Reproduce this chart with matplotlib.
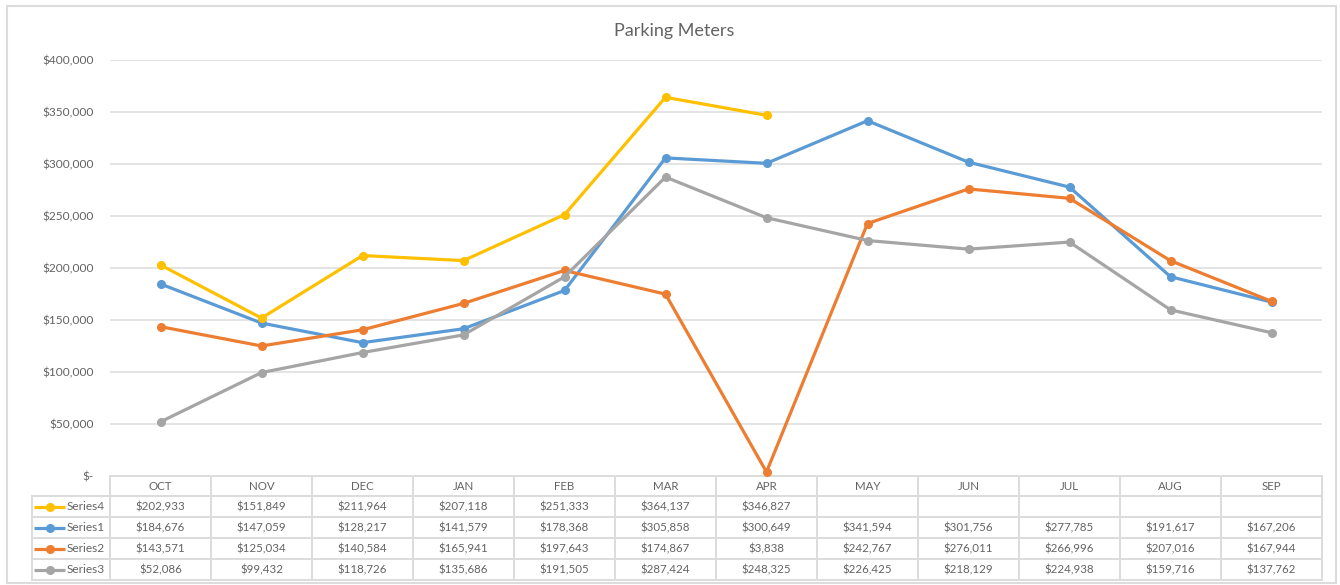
import numpy as np
import matplotlib
matplotlib.use("Agg")
import matplotlib.pyplot as plt
import matplotlib.transforms as mtransforms
from matplotlib.patches import Rectangle
from matplotlib.ticker import FuncFormatter

plt.rcParams['font.family'] = ['Lato', 'DejaVu Sans']

months = ["OCT", "NOV", "DEC", "JAN", "FEB", "MAR", "APR", "MAY", "JUN", "JUL", "AUG", "SEP"]
series1 = [184676, 147059, 128217, 141579, 178368, 305858, 300649, 341594, 301756, 277785, 191617, 167206]
series2 = [143571, 125034, 140584, 165941, 197643, 174867, 3838, 242767, 276011, 266996, 207016, 167944]
series3 = [52086, 99432, 118726, 135686, 191505, 287424, 248325, 226425, 218129, 224938, 159716, 137762]
series4 = [202933, 151849, 211964, 207118, 251333, 364137, 346827, np.nan, np.nan, np.nan, np.nan, np.nan]

names = ["Series1", "Series2", "Series3", "Series4"]
colors = ["#5B9BD5", "#ED7D31", "#A5A5A5", "#FFC000"]
values = [series1, series2, series3, series4]
table_order = [3, 0, 1, 2]

W, H = 1340, 585
TXT = "#636363"
GRID = "#dcdcdc"

fig = plt.figure(figsize=(W / 100, H / 100), dpi=100)

# overlay in pixel coordinates (y down) for border, title and table
ov = fig.add_axes([0, 0, 1, 1], zorder=0)
ov.set_xlim(0, W)
ov.set_ylim(H, 0)
ov.axis("off")

ax = fig.add_axes([110 / W, 1 - 476 / H, (1322 - 110) / W, (476 - 60) / H], zorder=1)
ax.patch.set_visible(False)
x = np.arange(len(months))
ax.set_xlim(-0.5, len(months) - 0.5)
ax.set_ylim(0, 400000)
ax.set_yticks(np.arange(0, 400001, 50000))
ax.yaxis.set_major_formatter(FuncFormatter(lambda v, p: "$-" if v == 0 else f"${v:,.0f}"))
ax.set_xticks([])
ax.tick_params(axis="y", length=0, pad=11.5, labelsize=8.6, labelcolor=TXT)
ax.yaxis.grid(True, color=GRID, lw=1.1)
ax.set_axisbelow(True)
for s in ax.spines.values():
    s.set_visible(False)

for vals, c in zip(values, colors):
    ax.plot(x, vals, color=c, lw=2.3, marker="o", ms=5.5, clip_on=False, zorder=3)

ov.text(W / 2 + 4, 31, "Parking Meters", ha="center", va="center", fontsize=13, color=TXT)
ov.add_patch(Rectangle((6.5, 5.5), 1329, 577, fill=False, edgecolor=GRID, lw=1.5))

# data table under the chart
blend = mtransforms.blended_transform_factory(ax.transData, ov.transData)
rows_y = [476, 496, 517, 538, 559, 580]
left_px = 32
right = len(months) - 0.5
ov.plot([-0.5, right], [rows_y[0], rows_y[0]], color=GRID, lw=1.4, transform=blend, clip_on=False)
for yy in rows_y[1:]:
    ov.plot([-0.5, right], [yy, yy], color=GRID, lw=1.4, transform=blend, clip_on=False)
    ov.plot([left_px, 110], [yy, yy], color=GRID, lw=1.4, clip_on=False)
for i in range(len(months) + 1):
    ov.plot([i - 0.5, i - 0.5], [rows_y[0], rows_y[-1]], color=GRID, lw=1.4, transform=blend, clip_on=False)
ov.plot([left_px, left_px], [rows_y[1], rows_y[-1]], color=GRID, lw=1.4, clip_on=False)

for i, m in enumerate(months):
    ov.text(i, (rows_y[0] + rows_y[1]) / 2, m, ha="center", va="center", fontsize=8.3, color=TXT, transform=blend)

for r, k in enumerate(table_order):
    yc = (rows_y[r + 1] + rows_y[r + 2]) / 2
    ov.plot([34, 65], [yc, yc], color=colors[k], lw=2.3, solid_capstyle="butt")
    ov.plot([49.5], [yc], color=colors[k], marker="o", ms=5.5)
    ov.text(66.5, yc, names[k], ha="left", va="center", fontsize=8.6, color=TXT)
    for i, v in enumerate(values[k]):
        if not np.isnan(v):
            ov.text(i, yc, f"${v:,.0f}", ha="center", va="center", fontsize=8.3, color=TXT, transform=blend)

fig.savefig("out.png", dpi=100)
